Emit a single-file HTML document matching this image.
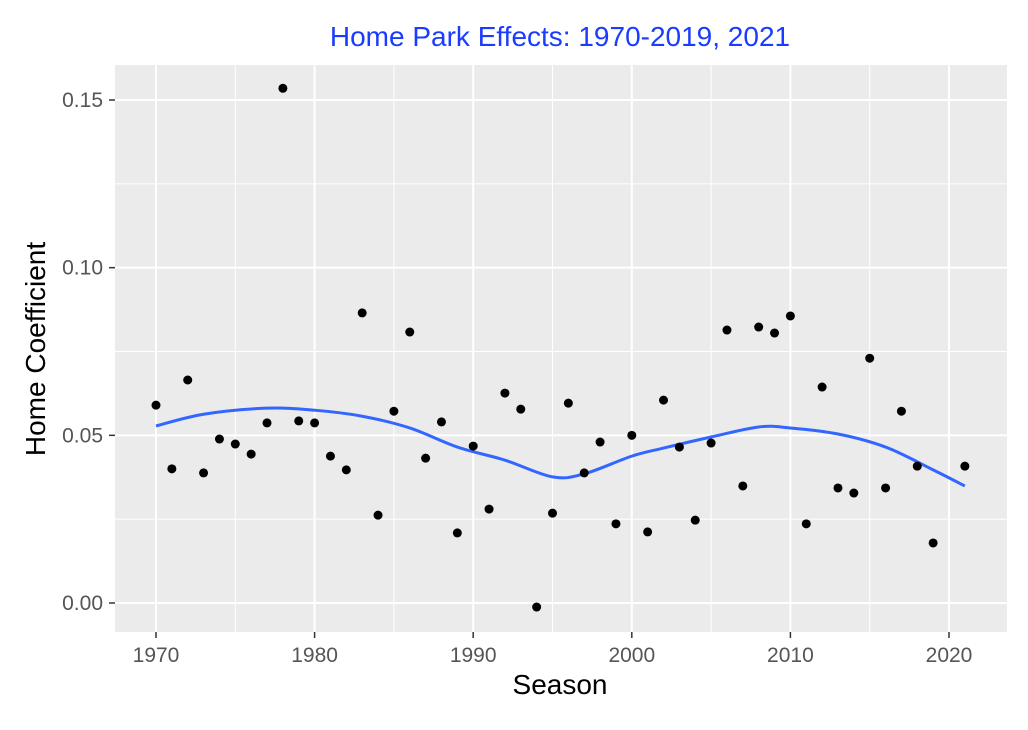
<!DOCTYPE html>
<html><head><meta charset="utf-8"><style>
body{margin:0;background:#fff;}
svg{display:block;font-family:"Liberation Sans",sans-serif;}
</style></head><body>
<svg id="chart" width="1028" height="730">
<text x="560" y="46" text-anchor="middle" font-size="28" fill="#1a3cff">Home Park Effects: 1970-2019, 2021</text>
<rect x="115" y="65" width="892" height="567" fill="#ebebeb"/>
<g id="grid"></g>
<g id="smooth"></g>
<g id="pts"></g>
<g id="axes"></g>
<text x="560" y="694" text-anchor="middle" font-size="28" fill="#000">Season</text>
<text transform="translate(45,349) rotate(-90)" text-anchor="middle" font-size="28" fill="#000">Home Coefficient</text>
</svg>
<script>
const years=[1970,1971,1972,1973,1974,1975,1976,1977,1978,1979,1980,1981,1982,1983,1984,1985,1986,1987,1988,1989,1990,1991,1992,1993,1994,1995,1996,1997,1998,1999,2000,2001,2002,2003,2004,2005,2006,2007,2008,2009,2010,2011,2012,2013,2014,2015,2016,2017,2018,2019,2021];
const coefs=[0.059,0.040,0.0665,0.0388,0.0489,0.0474,0.0444,0.0537,0.1535,0.0543,0.0537,0.0438,0.0397,0.0865,0.0262,0.0572,0.0808,0.0432,0.054,0.0209,0.0468,0.028,0.0626,0.0578,-0.0012,0.0268,0.0596,0.0388,0.048,0.0236,0.050,0.0212,0.0605,0.0465,0.0247,0.0477,0.0814,0.0349,0.0823,0.0805,0.0856,0.0236,0.0644,0.0343,0.0328,0.073,0.0343,0.0572,0.0408,0.0179,0.0408];
const smoothYears=[1970,1973,1977,1980,1983,1986,1989,1992,1995,1997,2000,2002,2005,2008,2010,2013,2016,2019,2021];
const smoothVals=[0.0528,0.0563,0.0581,0.0575,0.0557,0.0522,0.0465,0.0426,0.0376,0.0385,0.0438,0.0462,0.0495,0.0525,0.0522,0.0504,0.0465,0.0397,0.0349];
const xTicks=[1970,1980,1990,2000,2010,2020];
const yTicks=[0,0.05,0.10,0.15];
const yTickLabels=["0.00","0.05","0.10","0.15"];
const NS="http://www.w3.org/2000/svg";
const X=v=>156+(v-1970)*(949-156)/50;
const Y=v=>603-v*(603-100)/0.15;
function mk(t,a,p){const e=document.createElementNS(NS,t);for(const k in a)e.setAttribute(k,a[k]);p.appendChild(e);return e;}
const g=document.getElementById('grid'),ax=document.getElementById('axes');
for(let i=0;i<xTicks.length;i++){
 const v=xTicks[i];
 if(i<xTicks.length-1){const m=mk('line',{x1:X(v+5),x2:X(v+5),y1:65,y2:632,stroke:'#fff','stroke-width':1},g);
 }
 const l=mk('line',{x1:X(v),x2:X(v),y1:65,y2:632,stroke:'#fff','stroke-width':2},g);
 
 const tk=mk('line',{x1:X(v),x2:X(v),y1:632,y2:638,stroke:'#333','stroke-width':1.5},ax);
 
 const t=mk('text',{x:X(v),y:662,'text-anchor':'middle','font-size':21,fill:'#555'},ax);t.textContent=v;
 
}
for(let i=0;i<yTicks.length;i++){
 const v=yTicks[i];
 if(i<yTicks.length-1){const m=mk('line',{x1:115,x2:1007,y1:Y(v+0.025),y2:Y(v+0.025),stroke:'#fff','stroke-width':1},g);
 }
 const l=mk('line',{x1:115,x2:1007,y1:Y(v),y2:Y(v),stroke:'#fff','stroke-width':2},g);
 
 const tk=mk('line',{x1:109,x2:115,y1:Y(v),y2:Y(v),stroke:'#333','stroke-width':1.5},ax);
 
 const t=mk('text',{x:103,y:Y(v)+7,'text-anchor':'end','font-size':21,fill:'#555'},ax);t.textContent=yTickLabels[i];
 
}
const sp=smoothYears.map((y,i)=>[X(y),Y(smoothVals[i])]);
let d='M'+sp[0][0]+','+sp[0][1];
for(let i=0;i<sp.length-1;i++){const p0=sp[Math.max(0,i-1)],p1=sp[i],p2=sp[i+1],p3=sp[Math.min(sp.length-1,i+2)];
 d+=' C'+(p1[0]+(p2[0]-p0[0])/6)+','+(p1[1]+(p2[1]-p0[1])/6)+' '+(p2[0]-(p3[0]-p1[0])/6)+','+(p2[1]-(p3[1]-p1[1])/6)+' '+p2[0]+','+p2[1];}
const path=mk('path',{d:d,fill:'none',stroke:'#3366ff','stroke-width':3},document.getElementById('smooth'));

const pg=document.getElementById('pts');
for(let i=0;i<years.length;i++){
 const c=mk('circle',{cx:X(years[i]),cy:Y(coefs[i]),r:4.5,fill:'#000'},pg);
 
}
</script>
</body></html>
